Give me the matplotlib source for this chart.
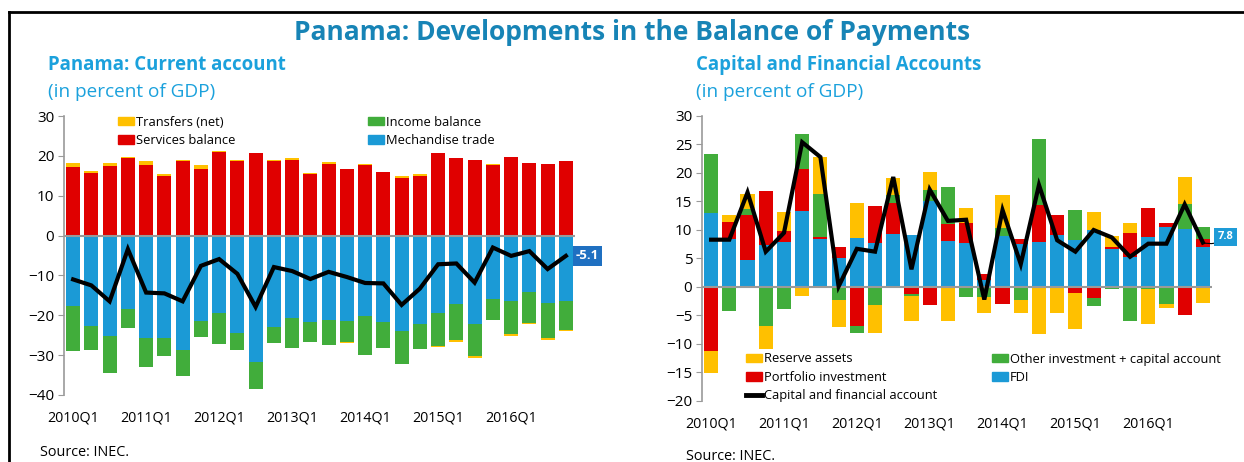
import numpy as np
import matplotlib.pyplot as plt
from matplotlib.patches import Patch
from matplotlib.lines import Line2D

plt.rcParams['font.family'] = ['Open Sans', 'DejaVu Sans']

W, H = 1244, 462

quarters = [f"{y}Q{q}" for y in range(2010, 2017) for q in range(1, 5)]

# Current account components (percent of GDP)
services = [17.2, 15.8, 17.5, 19.5, 17.7, 15.0, 18.6, 16.8, 21.0, 18.7, 20.6, 18.7, 19.0, 15.4,
            18.0, 16.6, 17.7, 15.9, 14.5, 15.0, 20.6, 19.4, 19.0, 17.7, 19.7, 18.3, 18.0, 18.6]
transfers = [0.9, 0.4, 0.6, 0.3, 1.0, 0.4, 0.3, 0.8, 0.3, 0.3, 0.1, 0.2, 0.4, 0.3,
             0.5, -0.2, 0.3, 0.1, 0.5, 0.5, -0.3, -0.4, -0.5, 0.2, -0.3, -0.3, -0.3, -0.3]
merchandise = [-17.6, -22.7, -25.1, -18.3, -25.7, -25.6, -28.6, -21.5, -19.5, -24.4, -31.8, -22.9, -20.8, -21.8,
               -21.1, -21.5, -20.3, -21.6, -24.0, -22.1, -19.4, -17.2, -22.1, -16.0, -16.4, -14.1, -17.0, -16.4]
income = [-11.3, -6.0, -9.4, -5.0, -7.4, -4.6, -6.6, -3.9, -7.7, -4.2, -6.8, -4.0, -7.5, -5.0,
          -6.3, -5.2, -9.7, -6.6, -8.3, -6.4, -8.3, -9.0, -8.1, -5.1, -8.4, -7.8, -8.8, -7.2]
current_account = [-11.0, -12.5, -16.5, -3.4, -14.3, -14.5, -16.5, -7.6, -5.9, -9.6, -17.9, -7.9, -8.9, -10.9,
                   -9.1, -10.4, -11.9, -12.0, -17.4, -13.3, -7.2, -7.0, -11.8, -3.0, -5.1, -3.9, -8.4, -5.1]

# Capital and financial account components (percent of GDP)
fdi = [13.0, 8.4, 4.7, 7.3, 7.9, 13.4, 8.5, 5.0, 8.6, 7.7, 9.3, 9.1, 15.1, 8.0,
       7.7, 1.3, 9.0, 7.5, 7.9, 9.1, 8.3, 10.0, 6.7, 5.3, 8.7, 10.6, 10.2, 7.0]
portfolio = [-11.2, 3.0, 7.9, 9.5, 1.9, 7.3, 0.3, 2.0, -6.8, 6.5, 5.4, -1.3, -3.1, 3.1,
             3.5, 1.0, -3.0, 1.0, 6.5, 3.5, -1.1, -2.0, 0.3, 4.2, 5.2, 0.6, -5.0, 1.4]
other_inv = [10.4, -4.2, 1.1, -6.8, -3.8, 6.1, 7.5, -2.2, -1.3, -3.2, 1.4, -0.3, 1.9, 6.5,
             -1.8, -1.8, 1.4, -2.2, 11.6, 0.1, 5.2, -1.4, -0.4, -5.9, -0.3, -3.0, 4.3, 2.1]
reserves = [-3.9, 1.2, 2.6, -4.0, 3.3, -1.5, 6.5, -4.8, 6.1, -4.9, 3.1, -4.3, 3.2, -6.0,
            2.6, -2.8, 5.8, -2.3, -8.3, -4.5, -6.3, 3.1, 1.9, 1.7, -6.2, -0.6, 4.8, -2.8]
capital_account = [8.3, 8.3, 16.6, 6.2, 9.5, 25.4, 22.8, 0.1, 6.7, 6.2, 19.3, 3.1, 17.1, 11.6,
                   11.8, -2.2, 13.5, 4.0, 17.9, 8.2, 6.2, 10.0, 8.7, 5.3, 7.6, 7.6, 14.5, 7.8]

RED = '#e00000'
BLUE = '#1b9ad6'
GREEN = '#41ad3b'
YELLOW = '#ffc000'
TITLE = '#1784b6'
SUB = '#1ba1dc'
GRID = '#9a9a9a'

x = np.arange(len(quarters))


def stacked(ax, series, colors):
    pos = np.zeros(len(x))
    neg = np.zeros(len(x))
    for vals, c in zip(series, colors):
        v = np.array(vals)
        base = np.where(v >= 0, pos, neg)
        ax.bar(x, v, bottom=base, width=0.78, color=c, edgecolor='none', zorder=2)
        pos += np.where(v >= 0, v, 0)
        neg += np.where(v < 0, v, 0)


def style(ax, ylim, step):
    ax.set_xlim(-0.5, len(x) - 0.5)
    ax.set_ylim(*ylim)
    ax.set_yticks(np.arange(ylim[0], ylim[1] + 1, step))
    ax.set_xticks(x[::4])
    ax.set_xticklabels(quarters[::4])
    for s in ['top', 'right', 'bottom']:
        ax.spines[s].set_visible(False)
    ax.spines['left'].set_color(GRID)
    ax.spines['left'].set_linewidth(1.2)
    ax.axhline(0, color=GRID, lw=1.5, zorder=3)
    ax.tick_params(axis='y', length=4, color=GRID, labelsize=11, pad=3)
    ax.tick_params(axis='x', length=0, labelsize=10.3, pad=11)


def legend_column(handles, labels, px, py):
    # one legend column, top-left corner placed at figure pixel (px, py)
    fig.legend(handles, labels, loc='upper left', bbox_to_anchor=(px / W, 1 - py / H),
               bbox_transform=fig.transFigure, frameon=False, fontsize=9.3, borderpad=0,
               borderaxespad=0, handlelength=1.25, handleheight=0.62, handletextpad=0.15,
               labelspacing=0.42)


fig = plt.figure(figsize=(W / 100, H / 100), dpi=100)

# outer frame (left and top edges)
fig.add_artist(Line2D([9 / W, 9 / W], [0, 1 - 12 / H], color='black', lw=2))
fig.add_artist(Line2D([9 / W, 1], [1 - 12 / H, 1 - 12 / H], color='black', lw=2))

fig.text(632 / W, 1 - 33 / H, 'Panama: Developments in the Balance of Payments', ha='center', va='center',
         fontsize=19, fontweight='bold', color=TITLE)
fig.text(48 / W, 1 - 65 / H, 'Panama: Current account', ha='left', va='center',
         fontsize=13.4, fontweight='bold', color=SUB)
fig.text(48 / W, 1 - 92 / H, '(in percent of GDP)', ha='left', va='center', fontsize=13.7, color=SUB)
fig.text(696 / W, 1 - 65 / H, 'Capital and Financial Accounts', ha='left', va='center',
         fontsize=13.4, fontweight='bold', color=SUB)
fig.text(696 / W, 1 - 92 / H, '(in percent of GDP)', ha='left', va='center', fontsize=13.7, color=SUB)
fig.text(40 / W, 1 - 452 / H, 'Source: INEC.', ha='left', va='center', fontsize=10.4)
fig.text(686 / W, 1 - 456 / H, 'Source: INEC.', ha='left', va='center', fontsize=10.4)

# left panel: current account
ax1 = fig.add_axes([64 / W, 1 - 395 / H, 511 / W, 279 / H])
stacked(ax1, [merchandise, services, income, transfers], [BLUE, RED, GREEN, YELLOW])
ax1.plot(x, current_account, color='black', lw=3, zorder=4, solid_joinstyle='miter')
style(ax1, (-40, 30), 10)
ax1.text(x[-1] + 0.55, current_account[-1], f'{current_account[-1]:.1f}', ha='left', va='center',
         fontsize=9.5, fontweight='bold', color='white', zorder=5,
         bbox=dict(boxstyle='square,pad=0.25', fc='#1f70c1', ec='none'))
legend_column([Patch(color=YELLOW), Patch(color=RED)],
              ['Transfers (net)', 'Services balance'], 118, 115.5)
legend_column([Patch(color=GREEN), Patch(color=BLUE)],
              ['Income balance', 'Mechandise trade'], 368, 115.5)

# right panel: capital and financial accounts
ax2 = fig.add_axes([702 / W, 1 - 401 / H, 510 / W, 285 / H])
stacked(ax2, [fdi, portfolio, other_inv, reserves], [BLUE, RED, GREEN, YELLOW])
ax2.plot(x, capital_account, color='black', lw=3, zorder=4, solid_joinstyle='miter')
style(ax2, (-20, 30), 5)
ax2.annotate(f'{capital_account[-1]:.1f}', xy=(x[-1], capital_account[-1]),
             xytext=(x[-1] + 0.8, capital_account[-1] + 1.0), ha='left', va='center',
             fontsize=8, fontweight='bold', color='white', zorder=5,
             bbox=dict(boxstyle='square,pad=0.3', fc='#1e9bd7', ec='none'),
             arrowprops=dict(arrowstyle='-', color='black', lw=0.8,
                             connectionstyle='arc3,rad=-0.3', shrinkA=0, shrinkB=0))
legend_column([Patch(color=YELLOW), Patch(color=RED), Line2D([], [], color='black', lw=3.5)],
              ['Reserve assets', 'Portfolio investment', 'Capital and financial account'], 746, 352.5)
legend_column([Patch(color=GREEN), Patch(color=BLUE)],
              ['Other investment + capital account', 'FDI'], 992, 352.5)

fig.savefig('out.png', dpi=100)
